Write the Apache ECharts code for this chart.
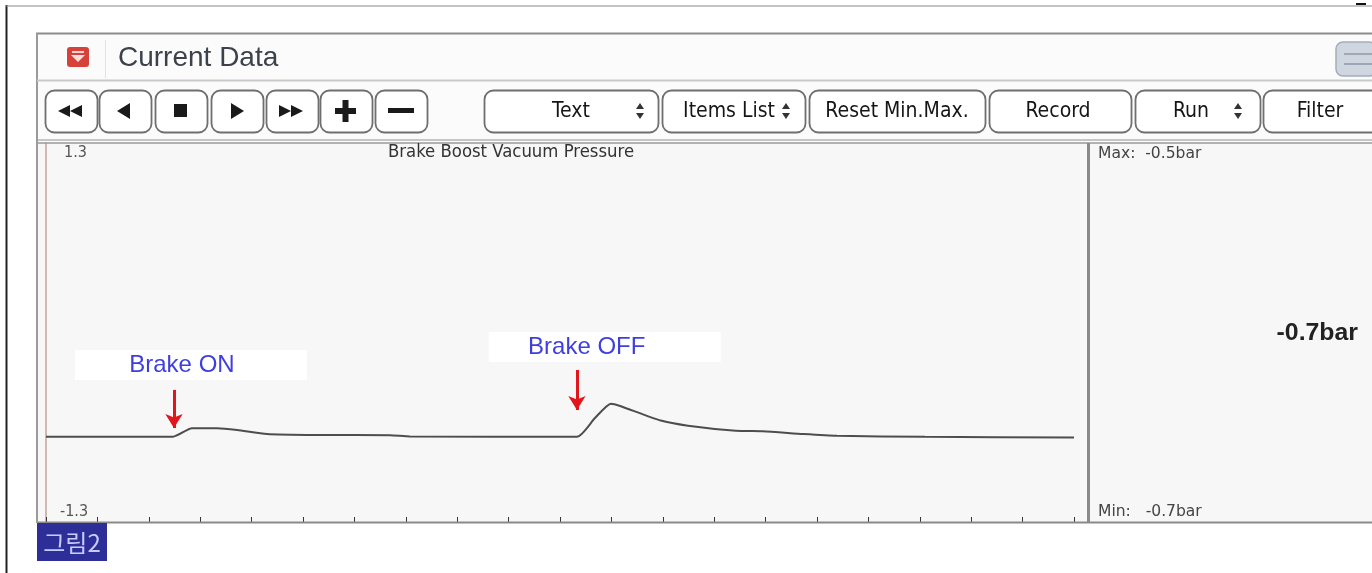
<!DOCTYPE html>
<html>
<head>
<meta charset="utf-8">
<script src="https://cdn.jsdelivr.net/npm/echarts@6/dist/echarts.min.js"></script>
<style>
  html, body { margin: 0; padding: 0; background: #fff; }
  #main { width: 1372px; height: 573px; }
</style>
</head>
<body>
<div id="main"></div>
<script>
// samples (time in tick units, pressure in bar)
const times = [0, 2.47, 2.84, 3.33, 3.72, 4.30, 5.33, 6.69, 7.08, 10.33, 10.68, 10.99, 11.17, 11.96, 12.49, 13.42, 13.95, 14.73, 15.39, 17.1, 20];
const pressure = [-0.715, -0.715, -0.657, -0.657, -0.669, -0.696, -0.703, -0.705, -0.713, -0.715, -0.587, -0.488, -0.504, -0.604, -0.639, -0.674, -0.678, -0.696, -0.708, -0.716, -0.72];
const events = ['Brake ON', 'Brake OFF'];
const eventTimes = [2.49, 10.33];
const yTicks = [1.3, -1.3];
const toolButtons = ['Text', 'Items List', 'Reset Min.Max.', 'Record', 'Run', 'Filter'];
const title = 'Brake Boost Vacuum Pressure';

const chart = echarts.init(document.getElementById('main'));

const narrow = "'Liberation Sans Narrow', 'DejaVu Sans Condensed', 'Liberation Sans', sans-serif";
const sans = "'Liberation Sans', Arial, sans-serif";

const maxV = Math.max(...pressure);
const minV = Math.min(...pressure);
const curV = pressure[pressure.length - 1];
const fmt = v => v.toFixed(1) + 'bar';

const g = [];
function line(x1, y1, x2, y2, stroke, w, z) {
  g.push({ type: 'line', z: z || 1, shape: { x1, y1, x2, y2 }, style: { stroke, lineWidth: w } });
}
function text(x, y, t, font, fill, align, sx) {
  g.push({ type: 'text', z: 5, x, y, scaleX: sx || 1, style: { text: t, font, fill, align: align || 'left', verticalAlign: 'middle', textAlign: align || 'left', textVerticalAlign: 'middle' } });
}
function button(x, w) {
  g.push({ type: 'rect', z: 2, shape: { x: x + 0.5, y: 90.5, width: w, height: 42, r: 9 }, style: { fill: '#fff', stroke: '#6f6f6f', lineWidth: 1.8 } });
}
function updown(cx) {
  g.push({ type: 'polygon', z: 3, shape: { points: [[cx - 4, 109], [cx + 4, 109], [cx, 103]] }, style: { fill: '#333' } });
  g.push({ type: 'polygon', z: 3, shape: { points: [[cx - 4, 113], [cx + 4, 113], [cx, 119]] }, style: { fill: '#333' } });
}

// page frame
line(6.5, 5, 6.5, 573, '#222', 2);
line(6, 6, 1372, 6, '#8a8a8a', 1.2);
line(1356, 4, 1366, 4, '#111', 2);

// window header
g.push({ type: 'rect', z: 0, shape: { x: 37, y: 34, width: 1335, height: 108 }, style: { fill: '#fbfbfb' } });
line(36, 33.5, 1372, 33.5, '#8d8d8d', 2);
line(37, 33, 37, 523, '#9a9a9a', 2);
line(37, 80.5, 1372, 80.5, '#c9c9c9', 2);
line(105.5, 40, 105.5, 78, '#e2e2e2', 1);
g.push({ type: 'rect', z: 2, shape: { x: 67, y: 47, width: 22, height: 20, r: 3 }, style: { fill: '#d6423a' } });
g.push({ type: 'rect', z: 3, shape: { x: 72, y: 51, width: 12, height: 2 }, style: { fill: '#f6d3cf' } });
g.push({ type: 'polygon', z: 3, shape: { points: [[71, 55], [85, 55], [78, 62]] }, style: { fill: '#f9e0dc' } });
text(118, 58, 'Current Data', '28px ' + sans, '#3c414c');
g.push({ type: 'rect', z: 2, shape: { x: 1336, y: 42, width: 40, height: 34, r: 7 }, style: { fill: '#cfd6e0', stroke: '#a4adbb', lineWidth: 1.5 } });
line(1344, 54, 1372, 54, '#8f99a8', 1.5, 3);
line(1344, 64, 1372, 64, '#8f99a8', 1.5, 3);

// transport buttons
const navX = [45, 99, 155, 211, 266, 320, 375];
navX.forEach(x => button(x, 52));
const dk = '#1a1a1a';
g.push({ type: 'polygon', z: 3, shape: { points: [[58, 111], [70, 105], [70, 117]] }, style: { fill: dk } });
g.push({ type: 'polygon', z: 3, shape: { points: [[70, 111], [82, 105], [82, 117]] }, style: { fill: dk } });
g.push({ type: 'polygon', z: 3, shape: { points: [[117, 111], [130, 103], [130, 119]] }, style: { fill: dk } });
g.push({ type: 'rect', z: 3, shape: { x: 174, y: 104, width: 13, height: 13 }, style: { fill: dk } });
g.push({ type: 'polygon', z: 3, shape: { points: [[231, 103], [244, 111], [231, 119]] }, style: { fill: dk } });
g.push({ type: 'polygon', z: 3, shape: { points: [[279, 105], [291, 111], [279, 117]] }, style: { fill: dk } });
g.push({ type: 'polygon', z: 3, shape: { points: [[291, 105], [303, 111], [291, 117]] }, style: { fill: dk } });
g.push({ type: 'rect', z: 3, shape: { x: 335, y: 108, width: 21, height: 6 }, style: { fill: dk } });
g.push({ type: 'rect', z: 3, shape: { x: 342.5, y: 100, width: 6, height: 22 }, style: { fill: dk } });
g.push({ type: 'rect', z: 3, shape: { x: 388, y: 108, width: 26, height: 5 }, style: { fill: dk } });

// text buttons
const tbX = [484, 662, 809, 989, 1135, 1263];
const tbW = [174, 143, 176, 142, 125, 130];
const tbTextX = [571, 729, 897, 1058, 1191, 1320];
toolButtons.forEach((t, i) => {
  button(tbX[i], tbW[i]);
  text(tbTextX[i], 112, t, '21px ' + narrow, '#151515', 'center');
});
updown(640); updown(786); updown(1238);

// chart panel
g.push({ type: 'rect', z: 0, shape: { x: 38, y: 143, width: 1334, height: 380 }, style: { fill: '#f7f7f7' } });
line(38, 140, 1372, 140, '#b4b4b4', 1.5);
line(38, 143, 1372, 143, '#9a9a9a', 1.5);
line(38, 522.5, 1372, 522.5, '#8a8a8a', 2);
line(1088.5, 143, 1088.5, 522, '#8a8a8a', 3);
text(64, 153, String(yTicks[0]), '16px ' + narrow, '#555');
text(60, 512, String(yTicks[1]), '16px ' + narrow, '#555');
text(511, 153, title, '17px ' + narrow, '#333', 'center', 1.08);
text(1098, 154, 'Max:  ' + fmt(maxV), '16px ' + narrow, '#444', 'left', 1.08);
text(1098, 512, 'Min:   ' + fmt(minV), '16px ' + narrow, '#444', 'left', 1.08);
text(1358, 334, fmt(curV), 'bold 23px ' + sans, '#222', 'right', 1.08);

// figure tag
g.push({ type: 'rect', z: 2, shape: { x: 37, y: 523, width: 70, height: 38 }, style: { fill: '#2e2e98' } });
text(72, 543, '그림2', '24px "Noto Sans CJK KR"', '#c9ccff', 'center');

const labelOffsets = [[-9, 0], [-18, 0]];
const boxCenters = [[2.82, -0.223], [10.87, -0.0995]];
const arrowEnds = [[-0.394, -0.655], [-0.257, -0.532]];

const option = {
  animation: false,
  backgroundColor: '#fff',
  graphic: { elements: g },
  grid: { left: 46, top: 143, width: 1028, height: 379 },
  xAxis: {
    type: 'value', min: 0, max: 20, interval: 1,
    axisLine: { show: false, onZero: false },
    axisTick: { show: true, inside: true, length: 5, lineStyle: { color: '#333', width: 1 } },
    axisLabel: { show: false },
    splitLine: { show: false }
  },
  yAxis: {
    type: 'value', min: yTicks[1], max: yTicks[0], interval: 1.3,
    axisLine: { show: true, lineStyle: { color: '#c6a2a2', width: 1.5 } },
    axisTick: { show: false },
    axisLabel: { show: false },
    splitLine: { show: false }
  },
  series: [{
    type: 'line',
    data: times.map((t, i) => [t, pressure[i]]),
    showSymbol: false,
    smooth: 0.2,
    lineStyle: { color: '#4d4d4d', width: 2 },
    z: 3,
    markLine: {
      silent: true,
      symbol: ['none', 'arrow'],
      symbolSize: [13, 14],
      label: { show: false },
      lineStyle: { color: '#e3151c', width: 3, type: 'solid' },
      data: eventTimes.map((t, i) => [{ coord: [t, arrowEnds[i][0]] }, { coord: [t, arrowEnds[i][1]] }])
    },
    markPoint: {
      silent: true,
      symbol: 'rect',
      symbolSize: [232, 30],
      itemStyle: { color: '#ffffff' },
      label: { show: true, position: 'inside', color: '#3f3fe0', fontSize: 24, fontFamily: sans, formatter: p => p.name },
      data: events.map((n, i) => ({ name: n, coord: boxCenters[i], label: { offset: labelOffsets[i] } }))
    }
  }]
};
chart.setOption(option);
</script>
</body>
</html>
